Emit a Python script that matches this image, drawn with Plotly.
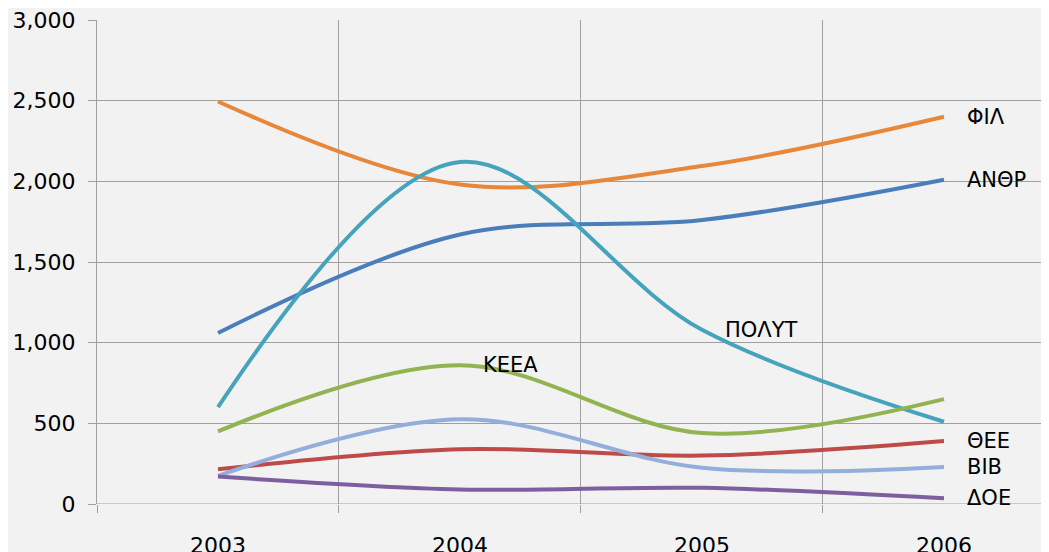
import plotly.graph_objects as go

years = ["2003", "2004", "2005", "2006"]

fil = [2495, 1980, 2095, 2400]
anthr = [1060, 1670, 1760, 2010]
polyt = [600, 2120, 1080, 510]
keea = [450, 860, 440, 650]
thee = [215, 340, 300, 390]
bib = [175, 525, 225, 230]
doe = [170, 90, 100, 35]

names = ["ΦΙΛ", "ΑΝΘΡ", "ΠΟΛΥΤ", "ΚΕΕΑ", "ΘΕΕ", "ΒΙΒ", "ΔΟΕ"]
series = [fil, anthr, polyt, keea, thee, bib, doe]
colors = ["#E6873A", "#4A7EBB", "#46A3BC", "#92B450", "#BE4B48", "#93AEDA", "#7D5FA0"]
# which point each series' name label is attached to
label_point = [3, 3, 2, 1, 3, 3, 3]

tick_vals = [0, 500, 1000, 1500, 2000, 2500, 3000]
tick_text = ["0", "500", "1,000", "1,500", "2,000", "2,500", "3,000"]

fig = go.Figure()
for name, vals, col in zip(names, series, colors):
    fig.add_trace(go.Scatter(
        x=years, y=vals, mode="lines", name=name,
        line=dict(color=col, width=4, shape="spline", smoothing=1.0),
        hoverinfo="x+y+name",
    ))

for name, vals, idx in zip(names, series, label_point):
    fig.add_annotation(
        x=idx, y=vals[idx], text=name, showarrow=False,
        xanchor="left", yanchor="middle", xshift=21,
        font=dict(family="DejaVu Sans", size=21, color="#000000"),
    )

gc = "#A0A0A0"
fig.update_layout(
    width=1041, height=544,
    margin=dict(l=89, r=0, t=12, b=48),
    paper_bgcolor="#F2F2F2", plot_bgcolor="#F2F2F2",
    showlegend=False,
    font=dict(family="DejaVu Sans", size=22, color="#000000"),
    xaxis=dict(
        type="category", range=[-0.5, 3.434], tickson="boundaries",
        showgrid=True, gridcolor=gc, gridwidth=1,
        showline=False, zeroline=False, automargin=False,
        ticks="outside", ticklen=8, tickcolor=gc,
        ticklabelstandoff=26, ticklabeloverflow="allow",
    ),
    yaxis=dict(
        range=[0, 3000], tickvals=tick_vals, ticktext=tick_text,
        showgrid=True, gridcolor=gc, gridwidth=1,
        showline=True, linecolor=gc, linewidth=1,
        zeroline=False, automargin=False,
        ticks="outside", ticklen=8, tickcolor=gc,
        ticklabelstandoff=8, ticklabeloverflow="allow",
    ),
)
fig.add_shape(type="line", xref="paper", yref="y", x0=0, x1=1, y0=0, y1=0,
              line=dict(color=gc, width=1), layer="below")

fig.write_html("out.html")
